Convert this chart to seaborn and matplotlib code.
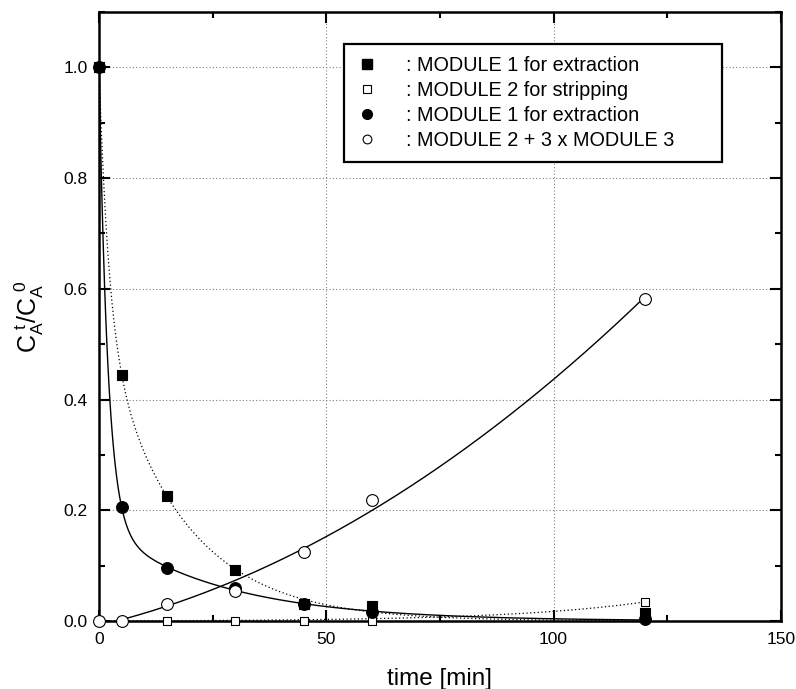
import numpy as np
import pandas as pd
import matplotlib
matplotlib.use("Agg")
import matplotlib.pyplot as plt
from matplotlib.ticker import MultipleLocator, FormatStrFormatter
from matplotlib.lines import Line2D
import seaborn as sns

# sampling times [min]
time_min = [0, 5, 15, 30, 45, 60, 120]

# C_A^t / C_A^0
m1_extraction_a = [1.0, 0.445, 0.225, 0.093, 0.030, 0.027, 0.015]   # filled squares
m2_stripping = [0.0, 0.0, 0.0, 0.0, 0.0, 0.0, 0.035]                # open squares
m1_extraction_b = [1.0, 0.205, 0.095, 0.060, 0.030, 0.017, 0.003]   # filled circles
m2_m3_stripping = [0.0, 0.0, 0.030, 0.055, 0.125, 0.218, 0.582]     # open circles

legend_labels = [": MODULE 1 for extraction",
                 ": MODULE 2 for stripping",
                 ": MODULE 1 for extraction",
                 ": MODULE 2 + 3 x MODULE 3"]


def fit_biexp(t, y):
    """fit A*exp(-a t) + (1-A)*exp(-b t), curve starts at the t=0 value"""
    t = np.asarray(t, float)
    y = np.asarray(y, float)
    best = None
    for a in np.logspace(-2, 1, 150):
        for b in np.logspace(-3, -0.5, 120):
            if b >= a:
                continue
            g = np.exp(-a * t) - np.exp(-b * t)
            r = y - np.exp(-b * t)
            A = np.clip((g @ r) / (g @ g), 0, 1)
            err = ((A * g - r) ** 2).sum()
            if best is None or err < best[0]:
                best = (err, a, b, A)
    _, a, b, A = best
    return lambda tt: A * np.exp(-a * tt) + (1 - A) * np.exp(-b * tt)


def fit_expgrowth(t, y):
    """least squares fit of c*(exp(k t) - 1)"""
    t = np.asarray(t, float)
    y = np.asarray(y, float)
    best = None
    for k in np.linspace(0.005, 0.033, 120):
        g = np.exp(k * t) - 1
        c = (g @ y) / (g @ g)
        err = ((c * g - y) ** 2).sum()
        if best is None or err < best[0]:
            best = (err, k, c)
    _, k, c = best
    return lambda tt: c * (np.exp(k * tt) - 1)


sns.set_style("ticks")
plt.rcParams['font.family'] = ['Liberation Sans', 'DejaVu Sans']
plt.rcParams['mathtext.fontset'] = 'custom'
plt.rcParams['mathtext.rm'] = 'Liberation Sans'
plt.rcParams['text.color'] = 'black'
plt.rcParams['axes.labelcolor'] = 'black'
plt.rcParams['xtick.color'] = 'black'
plt.rcParams['ytick.color'] = 'black'
plt.rcParams['axes.edgecolor'] = 'black'

fig = plt.figure(figsize=(7.96, 6.89), dpi=100)
ax = fig.add_axes([0.1244, 0.0987, 0.8566, 0.8839])

tt = np.linspace(0, 120, 500)
fits = pd.DataFrame({
    "t": tt,
    "sq_fit": fit_biexp(time_min, m1_extraction_a)(tt),
    "osq_fit": fit_expgrowth(time_min, m2_stripping)(tt),
    "ci_fit": fit_biexp(time_min, m1_extraction_b)(tt),
    "oci_fit": np.polyval(np.polyfit(time_min, m2_m3_stripping, 2), tt),
})

# fitted curves
sns.lineplot(data=fits, x="t", y="sq_fit", color="black", lw=0.9, ls=(0, (1, 2)), ax=ax)
sns.lineplot(data=fits, x="t", y="osq_fit", color="black", lw=0.9, ls=(0, (1, 2)), ax=ax)
sns.lineplot(data=fits, x="t", y="ci_fit", color="black", lw=1.0, ax=ax)
sns.lineplot(data=fits, x="t", y="oci_fit", color="black", lw=1.0, ax=ax)

pts = pd.DataFrame({"t": time_min, "sq": m1_extraction_a, "osq": m2_stripping,
                    "ci": m1_extraction_b, "oci": m2_m3_stripping})

styles = [("sq", "s", "black", 58), ("osq", "s", "white", 36),
          ("ci", "o", "black", 72), ("oci", "o", "white", 72)]
for col, mk, fc, sz in styles:
    sns.scatterplot(data=pts, x="t", y=col, marker=mk, s=sz, facecolor=fc,
                    edgecolor="black", linewidth=0.8, ax=ax, clip_on=False, zorder=5)

ax.set_xlim(0, 150)
ax.set_ylim(0, 1.1)
ax.xaxis.set_major_locator(MultipleLocator(50))
ax.xaxis.set_minor_locator(MultipleLocator(25))
ax.yaxis.set_major_locator(MultipleLocator(0.2))
ax.yaxis.set_minor_locator(MultipleLocator(0.1))
ax.yaxis.set_major_formatter(FormatStrFormatter('%.1f'))

ax.tick_params(which="both", direction="in", top=True, right=True, width=1.5,
               labelsize=12.5, pad=8)
ax.tick_params(which="major", length=8)
ax.tick_params(which="minor", length=4.5)
for sp in ax.spines.values():
    sp.set_linewidth(1.8)
    sp.set_visible(True)

ax.grid(True, which="major", color="gray", ls=(0, (1, 2)), lw=0.8)
ax.set_axisbelow(True)

ax.set_xlabel("time [min]", fontsize=17.5)
ax.xaxis.set_label_coords(0.5, -0.077)
ax.set_ylabel(r"$\mathregular{C_A^{\ t}/C_A^{\ 0}}$", fontsize=18, labelpad=13)

handles = [Line2D([], [], ls="none", marker="s", ms=7, mfc="black", mec="black"),
           Line2D([], [], ls="none", marker="s", ms=6, mfc="white", mec="black", mew=0.8),
           Line2D([], [], ls="none", marker="o", ms=7, mfc="black", mec="black"),
           Line2D([], [], ls="none", marker="o", ms=6.3, mfc="white", mec="black", mew=0.8)]
# legend box stretched to the width it has in the original
leg = ax.legend(handles, legend_labels, loc="upper left",
                bbox_to_anchor=(0.3592, 0.9475, 0.5543, 0), mode="expand",
                fontsize=14.3, frameon=True, fancybox=False, edgecolor="black",
                framealpha=1, handlelength=1.1, handletextpad=1.4,
                labelspacing=0.3, borderpad=0.6, borderaxespad=0)
leg.get_frame().set_linewidth(1.6)

fig.savefig("out.png", dpi=100)
